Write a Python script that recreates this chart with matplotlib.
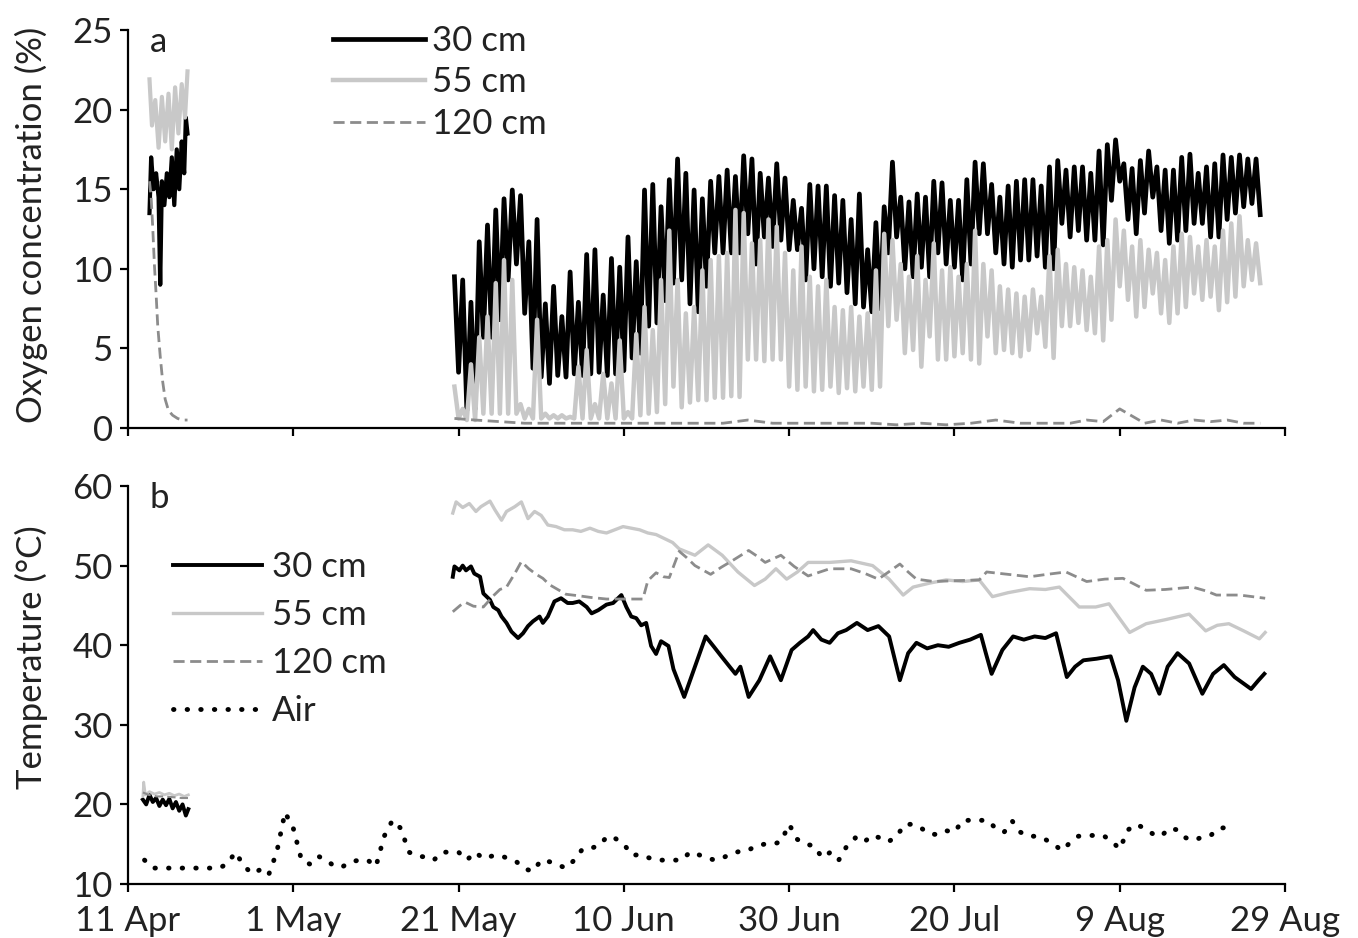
import numpy as np
import matplotlib.pyplot as plt

plt.rcParams['font.family'] = ['Lato', 'DejaVu Sans']

# x axis is days since 11 Apr
tick_days = [0, 20, 40, 60, 80, 100, 120, 140]
tick_labels = ['11 Apr', '1 May', '21 May', '10 Jun', '30 Jun', '20 Jul', '9 Aug', '29 Aug']

# ---- (a) oxygen concentration (%) ----
# first deployment, 12-18 Apr: (day, value)
o2_30_early = [(2.6, 13.5), (2.8, 17.0), (3.1, 15.0), (3.4, 16.0), (3.7, 14.5), (3.9, 9.0),
               (4.1, 15.5), (4.4, 14.0), (4.7, 16.0), (5.0, 14.5), (5.3, 17.0), (5.6, 14.0),
               (5.9, 17.5), (6.2, 15.0), (6.5, 18.0), (6.8, 16.0), (7.0, 19.5), (7.2, 18.5)]
o2_55_early = [(2.6, 21.9), (2.9, 19.0), (3.3, 20.6), (3.7, 17.6), (4.1, 20.8), (4.5, 18.0),
               (4.9, 21.0), (5.3, 17.5), (5.7, 21.4), (6.1, 18.5), (6.5, 21.6), (6.9, 19.5),
               (7.2, 22.4)]
o2_120_early = [(2.6, 15.5), (2.8, 14.5), (3.0, 12.5), (3.2, 10.2), (3.4, 8.4), (3.6, 6.4),
                (3.9, 4.5), (4.2, 2.9), (4.5, 1.8), (4.9, 1.1), (5.4, 0.8), (6.0, 0.6),
                (6.6, 0.5), (7.2, 0.5)]

# second deployment, daily maximum / minimum from 21 May (day 40) to 26 Aug (day 137)
o2_days = list(range(40, 138))
o2_30_max = [9.5, 9.3, 7.9, 11.7, 12.75, 13.7, 14.4, 14.95, 14.6, 11.7,
             13.1, 7.8, 8.9, 7.0, 9.8, 7.9, 10.9, 11.2, 8.35, 10.65,
             10.1, 12.0, 10.45, 14.95, 15.3, 13.9, 15.6, 16.9, 16.0, 14.95,
             14.4, 15.5, 15.8, 16.2, 15.8, 17.1, 16.9, 16.0, 15.7, 16.6,
             15.7, 14.3, 13.8, 15.3, 15.2, 15.2, 14.6, 14.3, 13.1, 14.7,
             11.2, 12.9, 13.9,
             16.7, 14.5, 14.2, 14.7, 14.5, 15.5, 15.4, 14.3, 14.3, 15.6,
             16.7, 16.6, 15.3, 14.5, 15.2, 15.5, 15.6, 15.6, 15.2, 16.4,
             16.8, 16.2, 16.4, 16.4, 16.0, 17.4, 17.8, 18.1, 16.6, 16.3,
             16.8, 17.4, 16.4, 16.2, 16.2, 17.0, 17.2, 16.0, 16.4, 16.6,
             17.15, 17.0, 17.15, 16.9, 16.9]
o2_30_min = [3.5, 1.1, 1.2, 5.7, 5.7, 6.8, 9.3, 10.3, 7.2, 3.75,
             3.2, 2.8, 3.3, 3.2, 3.4, 3.3, 3.4, 3.5, 3.3, 3.4,
             3.6, 4.4, 4.7, 6.4, 6.6, 8.0, 9.1, 9.3, 7.8, 7.3,
             8.9, 11.0, 11.0, 11.0, 11.0, 12.2, 10.3, 12.0, 11.4, 11.8,
             11.2, 11.2, 9.3, 10.0, 9.5, 8.9, 9.1, 8.5, 7.8, 7.6,
             7.3, 7.5, 11.0,
             12.0, 10.0, 9.5, 10.1, 9.5, 11.0, 10.3, 10.1, 9.3, 10.3,
             12.2, 12.2, 11.0, 10.3, 10.1, 10.55, 10.55, 10.8, 10.1, 10.0,
             12.85, 12.0, 12.4, 11.8, 11.8, 11.5, 14.3, 15.5, 13.1, 12.2,
             13.5, 14.5, 12.4, 11.6, 11.8, 12.4, 12.85, 12.85, 12.0, 12.0,
             13.1, 13.5, 13.9, 14.1, 13.4]
o2_55_max = [2.6, 1.2, 4.0, 5.7, 7.0, 9.1, 10.55, 9.3, 1.5, 1.2,
             6.8, 0.9, 0.8, 0.8, 0.7, 3.85, 4.9, 1.5, 3.4, 2.8,
             5.5, 1.0, 5.9, 7.6, 6.15, 9.3, 12.4, 9.3, 7.2, 7.6,
             9.9, 10.55, 10.8, 11.0, 13.7, 13.5, 11.6, 11.8, 13.1, 12.65,
             11.0, 9.9, 11.4, 9.5, 8.9, 9.3, 7.6, 7.4, 7.6, 7.0,
             7.2, 9.9, 12.2,
             11.8, 10.3, 9.5, 10.8, 9.3, 11.6, 9.9, 10.1, 9.5, 10.3,
             12.4, 10.3, 9.9, 8.9, 8.7, 8.45, 8.25, 8.7, 8.25, 10.8,
             11.2, 10.3, 10.1, 9.9, 9.5, 11.4, 11.8, 13.1, 12.4, 11.4,
             11.8, 11.2, 11.0, 10.55, 11.4, 12.2, 12.0, 11.4, 11.8, 11.4,
             12.4, 12.85, 13.3, 11.8, 11.6]
o2_55_min = [0.6, 0.5, 0.5, 0.9, 0.9, 0.9, 0.9, 0.9, 0.6, 0.6,
             0.6, 0.6, 0.6, 0.6, 0.6, 0.6, 0.6, 0.6, 0.6, 0.6,
             0.6, 0.6, 0.8, 0.9, 1.0, 1.5, 2.6, 1.3, 1.6, 1.75,
             1.75, 1.9, 1.9, 2.0, 1.95, 4.3, 4.3, 4.2, 4.3, 4.3,
             2.6, 2.4, 2.6, 2.3, 2.4, 2.6, 2.2, 2.5, 2.3, 2.6,
             2.4, 2.6, 6.4,
             6.8, 4.7, 4.9, 3.85, 5.75, 4.3, 4.3, 4.5, 4.7, 4.3,
             4.05, 5.75, 4.7, 4.9, 4.7, 4.5, 4.9, 5.95, 5.1, 4.4,
             6.4, 6.4, 6.6, 6.15, 5.95, 5.5, 6.8, 8.9, 8.05, 7.0,
             7.6, 8.45, 7.2, 6.6, 7.2, 7.6, 8.45, 8.05, 8.25, 7.4,
             7.9, 8.25, 8.9, 9.3, 9.1]
o2_120 = [(39.5, 0.6), (42, 0.5), (45, 0.4), (48, 0.3), (51, 0.3), (54, 0.3), (57, 0.3),
          (60, 0.3), (63, 0.3), (66, 0.3), (69, 0.3), (72, 0.3), (75, 0.5), (78, 0.3),
          (81, 0.3), (84, 0.3), (87, 0.3), (90, 0.3), (93, 0.2), (96, 0.3), (99, 0.2),
          (102, 0.3), (105, 0.5), (108, 0.3), (111, 0.3), (114, 0.3), (116, 0.5),
          (118, 0.4), (119, 0.8), (120, 1.2), (121, 0.9), (122, 0.6), (123, 0.3),
          (125, 0.5), (127, 0.3), (129, 0.5), (131, 0.4), (133, 0.5), (135, 0.3), (137, 0.3)]

# ---- (b) temperature (degC) ----
t30_early = [(1.8, 20.6), (2.2, 20.0), (2.6, 21.2), (3.0, 20.3), (3.4, 20.8), (3.8, 19.8),
             (4.2, 20.6), (4.6, 19.9), (5.0, 20.7), (5.4, 19.5), (5.8, 20.3), (6.2, 19.2),
             (6.6, 20.0), (7.0, 18.6), (7.3, 19.4)]
t55_early = [(1.8, 21.0), (1.9, 22.8), (2.1, 21.2), (2.6, 21.6), (3.2, 21.3), (3.8, 21.5),
             (4.4, 21.2), (5.0, 21.4), (5.6, 21.1), (6.2, 21.3), (6.8, 21.0), (7.3, 21.2)]
t120_early = [(1.8, 21.5), (2.5, 21.2), (3.5, 21.0), (4.5, 21.0), (5.5, 20.9), (6.5, 20.8),
              (7.3, 20.8)]

t30 = [(39.3, 48.6), (39.5, 49.9), (40.1, 49.4), (40.5, 50.0), (40.9, 49.4), (41.5, 49.9),
       (41.9, 49.0), (42.6, 48.6), (43.0, 46.5), (43.8, 45.7), (44.2, 44.8), (44.8, 44.4),
       (45.2, 43.6), (45.8, 42.8), (46.4, 41.7), (47.2, 40.9), (47.8, 41.5), (48.4, 42.4),
       (49.0, 43.0), (49.8, 43.6), (50.2, 42.8), (50.8, 43.6), (51.6, 45.5), (52.4, 45.9),
       (53.2, 45.3), (53.8, 45.3), (54.6, 45.5), (55.5, 44.8), (56.1, 44.0), (56.9, 44.4),
       (57.9, 45.1), (58.7, 45.3), (59.7, 46.3), (60.3, 44.8), (60.9, 43.6), (61.5, 43.4),
       (62.1, 42.5), (62.7, 42.8), (63.3, 39.9), (63.9, 38.9), (64.5, 40.5), (65.4, 39.9),
       (66.0, 37.0), (67.3, 33.5), (68.6, 37.3), (69.9, 41.1), (70.9, 39.8), (71.8, 38.6),
       (72.8, 37.3), (73.5, 36.4), (74.1, 37.3), (75.1, 33.5), (76.4, 35.6), (77.7, 38.6),
       (79.0, 35.6), (80.3, 39.4), (81.3, 40.3), (82.3, 41.1), (82.9, 41.9), (83.9, 40.7),
       (84.9, 40.3), (85.9, 41.5), (86.9, 41.9), (88.2, 42.8), (89.5, 41.9), (90.8, 42.4),
       (92.1, 41.1), (93.4, 35.6), (94.4, 39.0), (95.4, 40.3), (96.7, 39.6), (98.0, 40.0),
       (99.3, 39.8), (100.6, 40.3), (101.9, 40.7), (103.2, 41.3), (103.8, 39.0), (104.5, 36.4),
       (105.8, 39.4), (107.1, 41.1), (108.4, 40.7), (109.7, 41.1), (111.0, 40.9), (112.3, 41.5),
       (113.6, 36.0), (114.6, 37.3), (115.6, 38.1), (117.2, 38.3), (118.9, 38.6), (119.8, 35.6),
       (120.8, 30.5), (121.8, 34.7), (122.8, 37.3), (123.8, 36.4), (124.8, 33.9), (125.8, 37.3),
       (127.0, 39.0), (128.4, 37.7), (130.0, 33.9), (131.3, 36.4), (132.6, 37.5), (133.9, 36.0),
       (135.9, 34.5), (136.8, 35.6), (137.5, 36.4)]
t55 = [(39.3, 56.6), (39.7, 58.0), (40.5, 57.3), (41.3, 57.8), (42.1, 56.8), (42.7, 57.4),
       (43.8, 58.1), (44.4, 57.0), (45.2, 55.7), (45.8, 56.8), (46.8, 57.4), (47.6, 58.0),
       (48.4, 55.9), (49.2, 56.8), (50.0, 56.3), (50.8, 55.1), (51.8, 54.9), (52.8, 54.5),
       (53.8, 54.5), (54.8, 54.3), (55.9, 54.7), (56.9, 54.3), (57.9, 54.1), (58.9, 54.5),
       (59.9, 54.9), (60.9, 54.7), (61.9, 54.5), (62.9, 54.1), (63.9, 53.9), (65.1, 53.3),
       (65.9, 52.9), (66.7, 52.1), (68.6, 51.3), (70.2, 52.6), (71.9, 51.3), (73.8, 49.2),
       (75.8, 47.5), (77.1, 48.3), (78.4, 49.6), (79.7, 48.3), (81.0, 49.2), (82.3, 50.4),
       (84.9, 50.4), (87.5, 50.6), (90.1, 50.0), (92.1, 48.3), (93.8, 46.3), (95.0, 47.3),
       (97.0, 47.8), (99.0, 48.2), (101.0, 48.0), (103.0, 48.2), (104.6, 46.1), (106.5, 46.6),
       (109.1, 47.1), (111.0, 47.0), (112.7, 47.3), (115.1, 44.8), (117.1, 44.8), (118.7, 45.2),
       (121.2, 41.6), (123.2, 42.7), (125.5, 43.2), (128.4, 43.9), (130.4, 41.8), (131.8, 42.5),
       (133.2, 42.7), (135.0, 41.8), (136.9, 40.8), (137.6, 41.6)]
t120 = [(39.3, 44.2), (40.2, 45.0), (40.8, 45.4), (41.8, 44.9), (43.0, 44.8), (44.2, 46.2),
        (45.0, 47.0), (45.8, 47.3), (46.8, 49.0), (47.6, 50.5), (48.5, 49.6), (49.4, 48.9),
        (50.2, 48.4), (51.0, 47.6), (52.0, 47.0), (53.0, 46.4), (54.6, 46.2), (56.0, 46.0),
        (57.9, 45.8), (60.3, 45.8), (62.3, 45.8), (62.9, 48.1), (63.9, 49.1), (64.8, 48.6),
        (65.5, 48.5), (66.7, 51.8), (67.6, 51.0), (68.6, 50.0), (70.5, 48.9), (71.8, 49.8),
        (73.1, 50.6), (75.1, 51.9), (76.1, 51.2), (77.1, 50.4), (79.0, 51.3), (80.6, 49.9),
        (82.3, 48.7), (84.9, 49.6), (87.5, 49.6), (89.2, 49.0), (90.8, 48.3), (93.4, 50.2),
        (94.4, 49.2), (95.4, 48.3), (97.5, 48.0), (100.0, 48.1), (103.0, 48.2), (103.9, 49.2),
        (106.5, 48.9), (109.1, 48.6), (111.2, 48.9), (113.5, 49.2), (116.0, 48.0), (118.2, 48.3),
        (120.4, 48.4), (123.2, 46.9), (125.5, 47.0), (128.8, 47.3), (130.5, 46.8), (131.7, 46.3),
        (134.5, 46.3), (137.6, 45.9)]

# daily mean air temperature, 13 Apr (day 2) to 23 Aug (day 134)
air_days = list(range(2, 135))
air_temp = [13.0, 12.0, 12.0, 12.0, 12.0, 12.0, 12.0, 12.0, 12.0, 12.0,
            12.5, 14.0, 12.3, 11.3, 11.8, 11.1, 14.0, 19.0, 17.0, 13.0,
            12.5, 13.5, 13.0, 12.2, 12.2, 12.8, 13.0, 13.0, 12.2, 16.0,
            18.0, 17.0, 14.0, 13.5, 13.4, 13.0, 14.0, 14.0, 14.0, 13.0,
            14.0, 13.2, 13.5, 13.6, 13.2, 12.8, 11.9, 11.6, 13.0, 12.8,
            12.4, 12.0, 13.0, 14.4, 14.5, 14.8, 16.0, 15.7, 15.0, 13.6,
            13.7, 13.3, 13.0, 13.0, 13.0, 13.0, 14.0, 13.7, 13.3, 13.0,
            13.3, 13.8, 14.1, 14.2, 14.8, 15.0, 15.0, 15.3, 17.5, 15.6,
            15.0, 14.8, 13.3, 14.0, 13.0, 14.8, 15.8, 15.2, 16.1, 15.8,
            15.3, 16.0, 17.5, 17.5, 17.0, 16.3, 16.2, 16.7, 16.5, 18.0,
            18.0, 18.0, 18.0, 17.0, 16.5, 17.9, 16.5, 16.0, 16.0, 15.6,
            15.0, 14.2, 15.2, 16.0, 16.1, 16.1, 16.1, 15.4, 14.4, 16.8,
            17.5, 17.0, 16.3, 16.0, 17.0, 16.8, 15.8, 15.5, 15.9, 16.1,
            17.0, 17.1, 17.1]

C30, C55, C120 = 'black', '#c8c8c8', '#8c8c8c'
TXT = '#222222'
FS = 25


def xy(pairs):
    arr = np.array(pairs, dtype=float)
    return arr[:, 0], arr[:, 1]


def zigzag(days, hi, lo):
    # daily maximum followed by daily minimum half a day later
    d = np.asarray(days, dtype=float)
    t = np.column_stack([d - 0.5, d]).ravel()
    v = np.column_stack([hi, lo]).ravel()
    return t, v


fig = plt.figure(figsize=(13.58, 9.38), dpi=100)
ax_a = fig.add_axes([128 / 1358, 1 - 428 / 938, 1157 / 1358, 398 / 938])
ax_b = fig.add_axes([128 / 1358, 1 - 884 / 938, 1157 / 1358, 398 / 938])

# panel a
t, v = zigzag(o2_days, o2_30_max, o2_30_min)
ax_a.plot(t, v, color=C30, lw=3.4, label='30 cm')
ax_a.plot(*xy(o2_30_early), color=C30, lw=3.0)
t, v = zigzag(o2_days, o2_55_max, o2_55_min)
ax_a.plot(t, v, color=C55, lw=3.2, label='55 cm')
ax_a.plot(*xy(o2_55_early), color=C55, lw=3.0)
ax_a.plot(*xy(o2_120), color=C120, lw=2.0, dashes=(4, 2), label='120 cm')
ax_a.plot(*xy(o2_120_early), color=C120, lw=2.0, dashes=(4, 2))
ax_a.set_ylim(0, 25)
ax_a.set_yticks([0, 5, 10, 15, 20, 25])
ax_a.set_ylabel('Oxygen concentration (%)', fontsize=FS, color=TXT)
ax_a.yaxis.set_label_coords(-0.069, 0.51)

# panel b
ax_b.plot(*xy(t30), color=C30, lw=2.8, label='30 cm')
ax_b.plot(*xy(t30_early), color=C30, lw=2.8)
ax_b.plot(*xy(t55), color=C55, lw=2.4, label='55 cm')
ax_b.plot(*xy(t55_early), color=C55, lw=2.0)
ax_b.plot(*xy(t120), color=C120, lw=2.0, dashes=(4, 2), label='120 cm')
ax_b.plot(*xy(t120_early), color=C120, lw=1.5, dashes=(4, 2))
ax_b.plot(air_days, air_temp, color='black', lw=3.5, linestyle=(0, (0.1, 2.7)),
          dash_capstyle='round', label='Air')
ax_b.set_ylim(10, 60)
ax_b.set_yticks([10, 20, 30, 40, 50, 60])
ax_b.set_ylabel('Temperature (\u00b0C)', fontsize=FS, color=TXT)
ax_b.yaxis.set_label_coords(-0.069, 0.57)

for ax in (ax_a, ax_b):
    ax.set_xlim(0, 140)
    ax.set_xticks(tick_days)
    for side in ('top', 'right'):
        ax.spines[side].set_visible(False)
    for side in ('left', 'bottom'):
        ax.spines[side].set_linewidth(1.6)
    ax.tick_params(direction='out', length=6, width=1.6, labelsize=FS,
                   labelcolor=TXT, pad=5)
    ax.patch.set_alpha(0)

ax_b.tick_params(axis='x', pad=9)
ax_a.set_xticklabels([])
ax_b.set_xticklabels(tick_labels)

ax_a.text(0.019, 0.97, 'a', transform=ax_a.transAxes, fontsize=FS, color=TXT,
          va='center', ha='left')
ax_b.text(0.019, 0.97, 'b', transform=ax_b.transAxes, fontsize=FS, color=TXT,
          va='center', ha='left')

ax_a.legend(loc='upper left', bbox_to_anchor=(333 / 1358, 1 - 25 / 938),
            bbox_transform=fig.transFigure, frameon=False, fontsize=FS,
            handlelength=2.65, handletextpad=0.2, labelspacing=0.27,
            borderpad=0, borderaxespad=0, labelcolor=TXT)
ax_b.legend(loc='upper left', bbox_to_anchor=(173 / 1358, 1 - 551 / 938),
            bbox_transform=fig.transFigure, frameon=False, fontsize=FS,
            handlelength=2.57, handletextpad=0.29, labelspacing=0.46,
            borderpad=0, borderaxespad=0, labelcolor=TXT)

fig.savefig('out.png', dpi=100)
